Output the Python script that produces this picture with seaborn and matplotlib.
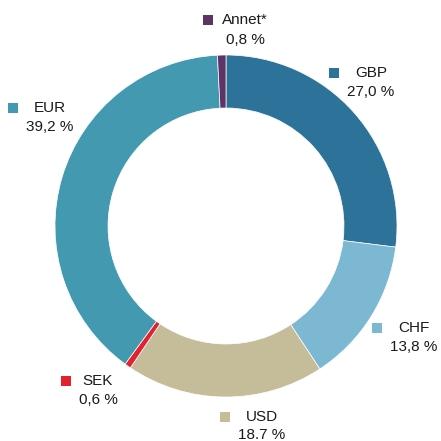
import matplotlib
matplotlib.use("Agg")
import matplotlib.pyplot as plt
import seaborn as sns

# currency split, clockwise from 12 o'clock
currencies = ["GBP", "CHF", "USD", "SEK", "EUR", "Annet*"]
shares = [27.0, 13.8, 18.7, 0.6, 39.2, 0.8]
share_labels = ["27,0 %", "13,8 %", "18.7 %", "0,6 %", "39,2 %", "0,8 %"]
colors = ["#2d7399", "#7db8d2", "#c5bc99", "#e1232f", "#4299b0", "#5e3467"]

sns.set_theme(style="white")
plt.rcParams["font.family"] = ["Liberation Sans", "DejaVu Sans"]

fig = plt.figure(figsize=(4.41, 4.41), dpi=100)
ax = fig.add_axes([0, 0, 1, 1])

cx, cy, r_px = 226, 226, 171

ax.pie(shares, colors=colors, startangle=90, counterclock=False, radius=1.0,
       wedgeprops=dict(width=0.31, edgecolor="white", linewidth=0.5))

ax.set_xlim(-cx / r_px, (441 - cx) / r_px)
ax.set_ylim(-(441 - cy) / r_px, cy / r_px)
ax.set_aspect("equal")
ax.axis("off")


def px(x, y):
    return (x - cx) / r_px, (cy - y) / r_px


# label layout: (marker x, y) in pixels, name left x, value centre x, value y gap
label_pos = {
    "GBP": (334, 73, 355, 371, 19),
    "CHF": (377, 328, 398, 414, 19),
    "USD": (225, 417, 246, 262, 18),
    "SEK": (66, 381, 82, 98, 19),
    "EUR": (13, 108, 34, 50, 19),
    "Annet*": (208, 20, 222, 245, 20),
}

for name, lab, col in zip(currencies, share_labels, colors):
    mx, my, tx, vx, gap = label_pos[name]
    x, y = px(mx, my)
    ax.scatter([x], [y], marker="s", s=48, color=col, linewidths=0)
    x, y = px(tx, my)
    ax.text(x, y, name, fontsize=11, color="#1a1a1a", ha="left", va="center")
    x, y = px(vx, my + gap)
    ax.text(x, y, lab, fontsize=11, color="#1a1a1a", ha="center", va="center")

fig.savefig("out.png", dpi=100, facecolor="white")
